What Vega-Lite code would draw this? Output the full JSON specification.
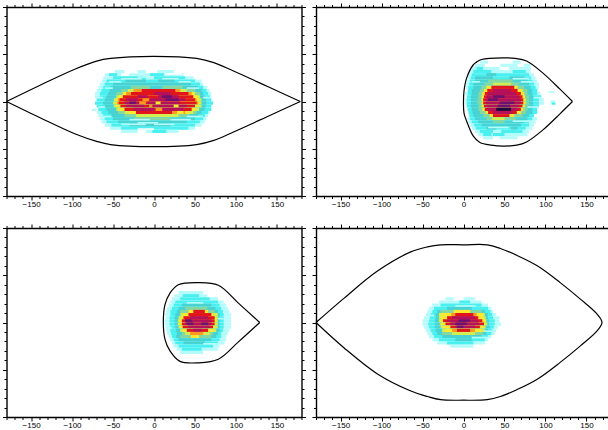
{"$schema":"https://vega.github.io/schema/vega-lite/v6.json","background":"white","padding":{"left":1.5,"top":2,"right":0,"bottom":0},"bounds":"flush","columns":2,"spacing":{"row":32,"column":14.5},
"config":{"view":{"stroke":null},"axis":{"title":null,"grid":false,"domainColor":"#000","domainWidth":1.4,"tickColor":"#000","tickWidth":1,"labelFont":"Liberation Sans","labelFontSize":8,"labelColor":"#000","labelPadding":0,"labelOverlap":false,"labelBound":false,"labelFlush":false,"zindex":1}},
"datasets":{
"h1":[
{"a":-48,"b":-36,"t":30,"d":27,"v":1},{"a":-20,"b":-10,"t":30,"d":27,"v":1},{"a":4,"b":24,"t":30,"d":27,"v":1},
{"a":-60,"b":-40,"t":27,"d":24,"v":1},{"a":-55,"b":-45,"t":27,"d":24,"v":2},{"a":-30,"b":36,"t":27,"d":24,"v":1},{"a":-5,"b":12,"t":27,"d":24,"v":2},
{"a":-62,"b":48,"t":24,"d":21,"v":1},{"a":-50,"b":-10,"t":24,"d":21,"v":2},{"a":0,"b":38,"t":24,"d":21,"v":2},
{"a":-64,"b":58,"t":21,"d":18,"v":1},{"a":-58,"b":50,"t":21,"d":18,"v":2},{"a":-35,"b":-10,"t":21,"d":18,"v":3},{"a":5,"b":25,"t":21,"d":18,"v":3},
{"a":-66,"b":60,"t":18,"d":15,"v":1},{"a":-60,"b":56,"t":18,"d":15,"v":2},{"a":-50,"b":45,"t":18,"d":15,"v":3},
{"a":-68,"b":65,"t":15,"d":12,"v":1},{"a":-62,"b":60,"t":15,"d":12,"v":2},{"a":-52,"b":54,"t":15,"d":12,"v":3},{"a":-28,"b":-5,"t":15,"d":12,"v":4},{"a":10,"b":35,"t":15,"d":12,"v":4},
{"a":-70,"b":68,"t":12,"d":9,"v":1},{"a":-64,"b":64,"t":12,"d":9,"v":2},{"a":-54,"b":58,"t":12,"d":9,"v":3},{"a":-40,"b":50,"t":12,"d":9,"v":4},{"a":-32,"b":40,"t":12,"d":9,"v":5},{"a":-25,"b":32,"t":12,"d":9,"v":7},{"a":-15,"b":26,"t":12,"d":9,"v":8},
{"a":-72,"b":70,"t":9,"d":6,"v":1},{"a":-66,"b":66,"t":9,"d":6,"v":2},{"a":-56,"b":60,"t":9,"d":6,"v":3},{"a":-46,"b":56,"t":9,"d":6,"v":4},{"a":-38,"b":50,"t":9,"d":6,"v":6},{"a":-34,"b":46,"t":9,"d":6,"v":7},{"a":-28,"b":42,"t":9,"d":6,"v":8},{"a":0,"b":20,"t":9,"d":6,"v":9},
{"a":-72,"b":70,"t":6,"d":3,"v":1},{"a":-66,"b":68,"t":6,"d":3,"v":2},{"a":-58,"b":62,"t":6,"d":3,"v":3},{"a":-46,"b":56,"t":6,"d":3,"v":5},{"a":-43,"b":53,"t":6,"d":3,"v":6},{"a":-38,"b":48,"t":6,"d":3,"v":8},{"a":-20,"b":-8,"t":6,"d":3,"v":9},{"a":5,"b":30,"t":6,"d":3,"v":9},{"a":10,"b":22,"t":6,"d":3,"v":10},
{"a":-70,"b":70,"t":3,"d":0,"v":2},{"a":-60,"b":63,"t":3,"d":0,"v":3},{"a":-49,"b":58,"t":3,"d":0,"v":5},{"a":-46,"b":55,"t":3,"d":0,"v":6},{"a":-44,"b":52,"t":3,"d":0,"v":7},{"a":-42,"b":50,"t":3,"d":0,"v":8},{"a":-34,"b":-20,"t":3,"d":0,"v":9},{"a":-5,"b":38,"t":3,"d":0,"v":9},{"a":-14,"b":-6,"t":3,"d":0,"v":7},{"a":14,"b":30,"t":3,"d":0,"v":10},
{"a":-72,"b":72,"t":0,"d":-3,"v":2},{"a":-62,"b":64,"t":0,"d":-3,"v":3},{"a":-50,"b":58,"t":0,"d":-3,"v":5},{"a":-47,"b":56,"t":0,"d":-3,"v":6},{"a":-45,"b":54,"t":0,"d":-3,"v":7},{"a":-43,"b":52,"t":0,"d":-3,"v":8},{"a":-36,"b":-18,"t":0,"d":-3,"v":9},{"a":-18,"b":-10,"t":0,"d":-3,"v":7},{"a":-8,"b":32,"t":0,"d":-3,"v":9},{"a":2,"b":8,"t":0,"d":-3,"v":6},{"a":-30,"b":-22,"t":0,"d":-3,"v":10},
{"a":-70,"b":70,"t":-3,"d":-6,"v":2},{"a":-60,"b":63,"t":-3,"d":-6,"v":3},{"a":-49,"b":58,"t":-3,"d":-6,"v":5},{"a":-46,"b":54,"t":-3,"d":-6,"v":6},{"a":-41,"b":50,"t":-3,"d":-6,"v":8},{"a":-34,"b":-12,"t":-3,"d":-6,"v":9},{"a":-2,"b":40,"t":-3,"d":-6,"v":9},{"a":-6,"b":-2,"t":-3,"d":-6,"v":7},{"a":24,"b":30,"t":-3,"d":-6,"v":6},
{"a":-68,"b":70,"t":-6,"d":-9,"v":2},{"a":-58,"b":62,"t":-6,"d":-9,"v":3},{"a":-46,"b":55,"t":-6,"d":-9,"v":5},{"a":-42,"b":50,"t":-6,"d":-9,"v":6},{"a":-36,"b":46,"t":-6,"d":-9,"v":8},{"a":-25,"b":0,"t":-6,"d":-9,"v":9},{"a":10,"b":36,"t":-6,"d":-9,"v":9},{"a":2,"b":10,"t":-6,"d":-9,"v":7},
{"a":-70,"b":68,"t":-9,"d":-12,"v":1},{"a":-64,"b":66,"t":-9,"d":-12,"v":2},{"a":-56,"b":58,"t":-9,"d":-12,"v":3},{"a":-44,"b":52,"t":-9,"d":-12,"v":4},{"a":-36,"b":48,"t":-9,"d":-12,"v":5},{"a":-30,"b":42,"t":-9,"d":-12,"v":6},{"a":-22,"b":22,"t":-9,"d":-12,"v":8},{"a":22,"b":38,"t":-9,"d":-12,"v":7},{"a":28,"b":36,"t":-9,"d":-12,"v":6},
{"a":-68,"b":66,"t":-12,"d":-15,"v":1},{"a":-62,"b":62,"t":-12,"d":-15,"v":2},{"a":-52,"b":54,"t":-12,"d":-15,"v":3},{"a":-36,"b":44,"t":-12,"d":-15,"v":4},{"a":-22,"b":30,"t":-12,"d":-15,"v":5},
{"a":-66,"b":64,"t":-15,"d":-18,"v":1},{"a":-60,"b":60,"t":-15,"d":-18,"v":2},{"a":-50,"b":50,"t":-15,"d":-18,"v":3},{"a":-24,"b":20,"t":-15,"d":-18,"v":4},
{"a":-64,"b":62,"t":-18,"d":-21,"v":1},{"a":-58,"b":56,"t":-18,"d":-21,"v":2},{"a":-44,"b":40,"t":-18,"d":-21,"v":3},
{"a":-60,"b":58,"t":-21,"d":-24,"v":1},{"a":-52,"b":50,"t":-21,"d":-24,"v":2},{"a":-30,"b":20,"t":-21,"d":-24,"v":3},
{"a":-54,"b":50,"t":-24,"d":-27,"v":1},{"a":-40,"b":42,"t":-24,"d":-27,"v":2},
{"a":-40,"b":-20,"t":-27,"d":-30,"v":1},{"a":-10,"b":30,"t":-27,"d":-30,"v":1},{"a":-2,"b":15,"t":-27,"d":-30,"v":2},
{"a":-40,"b":-15,"t":22.5,"d":21,"v":1},{"a":10,"b":30,"t":22.5,"d":21,"v":1},{"a":-55,"b":-40,"t":19.5,"d":18,"v":1},{"a":30,"b":45,"t":19.5,"d":18,"v":1},{"a":-30,"b":-5,"t":-16.5,"d":-18,"v":1},{"a":20,"b":45,"t":-16.5,"d":-18,"v":1},{"a":-40,"b":-10,"t":-21,"d":-22.5,"v":1},{"a":0,"b":25,"t":-21,"d":-22.5,"v":1},{"a":14,"b":34,"t":27,"d":25.5,"v":0},{"a":-20,"b":0,"t":-25.5,"d":-27,"v":0},{"a":-76,"b":-70,"t":-7,"d":-9,"v":1},
{"a":-20,"b":-6,"t":24,"d":22.5,"v":1},{"a":-66,"b":-52,"t":-13.5,"d":-15,"v":1},{"a":40,"b":60,"t":-13.5,"d":-15,"v":1},{"a":-60,"b":-50,"t":13.5,"d":12,"v":1},{"a":40,"b":55,"t":13.5,"d":12,"v":1},{"a":-72,"b":-62,"t":4.5,"d":3,"v":1},{"a":60,"b":70,"t":4.5,"d":3,"v":1},{"a":-68,"b":-60,"t":-4.5,"d":-6,"v":1},{"a":-20,"b":5,"t":-19.5,"d":-21,"v":1}],
"h2":[
{"a":20,"b":30,"t":39,"d":36,"v":1},{"a":60,"b":70,"t":39,"d":36,"v":1},
{"a":14,"b":26,"t":36,"d":33,"v":1},{"a":45,"b":66,"t":36,"d":33,"v":1},{"a":74,"b":82,"t":36,"d":33,"v":1},
{"a":10,"b":44,"t":33,"d":30,"v":1},{"a":16,"b":24,"t":33,"d":30,"v":2},{"a":56,"b":82,"t":33,"d":30,"v":1},
{"a":8,"b":82,"t":30,"d":27,"v":1},{"a":12,"b":34,"t":30,"d":27,"v":2},{"a":60,"b":76,"t":30,"d":27,"v":2},
{"a":6,"b":86,"t":27,"d":24,"v":1},{"a":10,"b":80,"t":27,"d":24,"v":2},{"a":28,"b":40,"t":27,"d":24,"v":3},
{"a":5,"b":88,"t":24,"d":21,"v":1},{"a":9,"b":82,"t":24,"d":21,"v":2},{"a":14,"b":36,"t":24,"d":21,"v":3},{"a":56,"b":74,"t":24,"d":21,"v":3},
{"a":4,"b":90,"t":21,"d":18,"v":1},{"a":8,"b":84,"t":21,"d":18,"v":2},{"a":14,"b":78,"t":21,"d":18,"v":3},{"a":30,"b":60,"t":21,"d":18,"v":4},
{"a":3,"b":92,"t":18,"d":15,"v":1},{"a":7,"b":86,"t":18,"d":15,"v":2},{"a":12,"b":80,"t":18,"d":15,"v":3},{"a":26,"b":68,"t":18,"d":15,"v":4},{"a":36,"b":58,"t":18,"d":15,"v":5},
{"a":3,"b":92,"t":15,"d":12,"v":1},{"a":6,"b":88,"t":15,"d":12,"v":2},{"a":12,"b":82,"t":15,"d":12,"v":3},{"a":22,"b":74,"t":15,"d":12,"v":4},{"a":28,"b":66,"t":15,"d":12,"v":6},{"a":34,"b":62,"t":15,"d":12,"v":8},
{"a":5,"b":90,"t":12,"d":9,"v":2},{"a":10,"b":84,"t":12,"d":9,"v":3},{"a":20,"b":78,"t":12,"d":9,"v":4},{"a":25,"b":72,"t":12,"d":9,"v":6},{"a":29,"b":66,"t":12,"d":9,"v":8},{"a":36,"b":58,"t":12,"d":9,"v":9},
{"a":2,"b":94,"t":9,"d":6,"v":1},{"a":5,"b":90,"t":9,"d":6,"v":2},{"a":10,"b":84,"t":9,"d":6,"v":3},{"a":18,"b":78,"t":9,"d":6,"v":4},{"a":23,"b":74,"t":9,"d":6,"v":6},{"a":26,"b":70,"t":9,"d":6,"v":8},{"a":30,"b":64,"t":9,"d":6,"v":9},
{"a":4,"b":95,"t":6,"d":3,"v":2},{"a":9,"b":85,"t":6,"d":3,"v":3},{"a":18,"b":80,"t":6,"d":3,"v":4},{"a":22,"b":75,"t":6,"d":3,"v":6},{"a":25,"b":72,"t":6,"d":3,"v":8},{"a":28,"b":68,"t":6,"d":3,"v":9},{"a":36,"b":50,"t":6,"d":3,"v":10},
{"a":2,"b":98,"t":3,"d":0,"v":1},{"a":4,"b":92,"t":3,"d":0,"v":2},{"a":9,"b":85,"t":3,"d":0,"v":3},{"a":17,"b":80,"t":3,"d":0,"v":4},{"a":22,"b":76,"t":3,"d":0,"v":6},{"a":24,"b":73,"t":3,"d":0,"v":8},{"a":27,"b":70,"t":3,"d":0,"v":9},{"a":30,"b":42,"t":3,"d":0,"v":10},
{"a":2,"b":98,"t":0,"d":-3,"v":1},{"a":4,"b":92,"t":0,"d":-3,"v":2},{"a":9,"b":85,"t":0,"d":-3,"v":3},{"a":17,"b":80,"t":0,"d":-3,"v":4},{"a":22,"b":76,"t":0,"d":-3,"v":6},{"a":24,"b":73,"t":0,"d":-3,"v":8},{"a":27,"b":70,"t":0,"d":-3,"v":9},{"a":44,"b":62,"t":0,"d":-3,"v":10},
{"a":4,"b":92,"t":-3,"d":-6,"v":2},{"a":9,"b":85,"t":-3,"d":-6,"v":3},{"a":18,"b":80,"t":-3,"d":-6,"v":4},{"a":22,"b":75,"t":-3,"d":-6,"v":6},{"a":25,"b":72,"t":-3,"d":-6,"v":8},{"a":28,"b":68,"t":-3,"d":-6,"v":9},{"a":42,"b":57,"t":-3,"d":-6,"v":10},
{"a":5,"b":90,"t":-6,"d":-9,"v":2},{"a":10,"b":84,"t":-6,"d":-9,"v":3},{"a":18,"b":78,"t":-6,"d":-9,"v":4},{"a":23,"b":73,"t":-6,"d":-9,"v":6},{"a":26,"b":70,"t":-6,"d":-9,"v":8},{"a":29,"b":66,"t":-6,"d":-9,"v":9},{"a":40,"b":58,"t":-6,"d":-9,"v":11},
{"a":6,"b":90,"t":-9,"d":-12,"v":2},{"a":11,"b":84,"t":-9,"d":-12,"v":3},{"a":20,"b":76,"t":-9,"d":-12,"v":4},{"a":27,"b":70,"t":-9,"d":-12,"v":6},{"a":30,"b":65,"t":-9,"d":-12,"v":8},{"a":36,"b":60,"t":-9,"d":-12,"v":9},
{"a":7,"b":86,"t":-12,"d":-15,"v":2},{"a":12,"b":80,"t":-12,"d":-15,"v":3},{"a":24,"b":72,"t":-12,"d":-15,"v":4},{"a":32,"b":62,"t":-12,"d":-15,"v":6},{"a":36,"b":56,"t":-12,"d":-15,"v":8},
{"a":5,"b":90,"t":-15,"d":-18,"v":1},{"a":8,"b":84,"t":-15,"d":-18,"v":2},{"a":14,"b":78,"t":-15,"d":-18,"v":3},{"a":28,"b":64,"t":-15,"d":-18,"v":4},{"a":35,"b":50,"t":-15,"d":-18,"v":5},
{"a":6,"b":88,"t":-18,"d":-21,"v":1},{"a":10,"b":80,"t":-18,"d":-21,"v":2},{"a":18,"b":74,"t":-18,"d":-21,"v":3},{"a":36,"b":50,"t":-18,"d":-21,"v":4},
{"a":8,"b":86,"t":-21,"d":-24,"v":1},{"a":13,"b":80,"t":-21,"d":-24,"v":2},{"a":22,"b":70,"t":-21,"d":-24,"v":3},
{"a":10,"b":84,"t":-24,"d":-27,"v":1},{"a":15,"b":76,"t":-24,"d":-27,"v":2},{"a":28,"b":40,"t":-24,"d":-27,"v":3},{"a":58,"b":66,"t":-24,"d":-27,"v":3},
{"a":14,"b":80,"t":-27,"d":-30,"v":1},{"a":20,"b":36,"t":-27,"d":-30,"v":2},{"a":46,"b":72,"t":-27,"d":-30,"v":2},
{"a":18,"b":78,"t":-30,"d":-33,"v":1},{"a":24,"b":34,"t":-30,"d":-33,"v":2},{"a":36,"b":50,"t":-30,"d":-33,"v":2},
{"a":24,"b":36,"t":-33,"d":-36,"v":1},{"a":44,"b":66,"t":-33,"d":-36,"v":1},
{"a":104,"b":110,"t":10,"d":8,"v":1},{"a":106,"b":112,"t":1,"d":-3,"v":1},{"a":108,"b":112,"t":-1,"d":-3,"v":2},
{"a":60,"b":80,"t":22.5,"d":21,"v":1},{"a":10,"b":20,"t":19.5,"d":18,"v":1},{"a":70,"b":84,"t":19.5,"d":18,"v":1},{"a":60,"b":80,"t":-18,"d":-19.5,"v":1},{"a":30,"b":55,"t":-24,"d":-25.5,"v":1},{"a":86,"b":95,"t":4.5,"d":3,"v":1},{"a":78,"b":92,"t":-4.5,"d":-6,"v":1}],
"h3":[
{"a":30,"b":60,"t":30,"d":27,"v":1},
{"a":25,"b":65,"t":27,"d":24,"v":1},{"a":35,"b":55,"t":27,"d":24,"v":2},
{"a":22,"b":78,"t":24,"d":21,"v":1},{"a":32,"b":68,"t":24,"d":21,"v":2},
{"a":20,"b":85,"t":21,"d":18,"v":1},{"a":26,"b":78,"t":21,"d":18,"v":2},
{"a":18,"b":88,"t":18,"d":15,"v":1},{"a":24,"b":80,"t":18,"d":15,"v":2},{"a":34,"b":70,"t":18,"d":15,"v":3},
{"a":16,"b":90,"t":15,"d":12,"v":1},{"a":22,"b":82,"t":15,"d":12,"v":2},{"a":30,"b":75,"t":15,"d":12,"v":3},{"a":38,"b":65,"t":15,"d":12,"v":4},
{"a":15,"b":92,"t":12,"d":9,"v":1},{"a":20,"b":84,"t":12,"d":9,"v":2},{"a":28,"b":78,"t":12,"d":9,"v":3},{"a":32,"b":74,"t":12,"d":9,"v":4},{"a":42,"b":66,"t":12,"d":9,"v":6},{"a":48,"b":62,"t":12,"d":9,"v":8},
{"a":14,"b":94,"t":9,"d":6,"v":1},{"a":20,"b":85,"t":9,"d":6,"v":2},{"a":26,"b":80,"t":9,"d":6,"v":3},{"a":32,"b":78,"t":9,"d":6,"v":5},{"a":36,"b":72,"t":9,"d":6,"v":6},{"a":42,"b":70,"t":9,"d":6,"v":8},
{"a":14,"b":94,"t":6,"d":3,"v":1},{"a":19,"b":85,"t":6,"d":3,"v":2},{"a":25,"b":80,"t":6,"d":3,"v":3},{"a":30,"b":78,"t":6,"d":3,"v":5},{"a":33,"b":75,"t":6,"d":3,"v":6},{"a":36,"b":74,"t":6,"d":3,"v":8},{"a":44,"b":66,"t":6,"d":3,"v":9},
{"a":13,"b":94,"t":3,"d":0,"v":1},{"a":19,"b":85,"t":3,"d":0,"v":2},{"a":25,"b":80,"t":3,"d":0,"v":3},{"a":29,"b":78,"t":3,"d":0,"v":5},{"a":31,"b":76,"t":3,"d":0,"v":6},{"a":34,"b":74,"t":3,"d":0,"v":8},{"a":38,"b":70,"t":3,"d":0,"v":9},{"a":38,"b":46,"t":3,"d":0,"v":10},
{"a":13,"b":94,"t":0,"d":-3,"v":1},{"a":19,"b":85,"t":0,"d":-3,"v":2},{"a":25,"b":80,"t":0,"d":-3,"v":3},{"a":29,"b":78,"t":0,"d":-3,"v":5},{"a":31,"b":76,"t":0,"d":-3,"v":6},{"a":34,"b":74,"t":0,"d":-3,"v":8},{"a":38,"b":70,"t":0,"d":-3,"v":9},{"a":40,"b":48,"t":0,"d":-3,"v":10},{"a":58,"b":66,"t":0,"d":-3,"v":10},
{"a":14,"b":94,"t":-3,"d":-6,"v":1},{"a":20,"b":85,"t":-3,"d":-6,"v":2},{"a":26,"b":80,"t":-3,"d":-6,"v":3},{"a":30,"b":78,"t":-3,"d":-6,"v":5},{"a":32,"b":74,"t":-3,"d":-6,"v":6},{"a":35,"b":72,"t":-3,"d":-6,"v":8},{"a":42,"b":68,"t":-3,"d":-6,"v":9},
{"a":15,"b":92,"t":-6,"d":-9,"v":1},{"a":20,"b":84,"t":-6,"d":-9,"v":2},{"a":27,"b":80,"t":-6,"d":-9,"v":3},{"a":32,"b":76,"t":-6,"d":-9,"v":5},{"a":35,"b":72,"t":-6,"d":-9,"v":6},{"a":40,"b":66,"t":-6,"d":-9,"v":8},{"a":48,"b":58,"t":-6,"d":-9,"v":9},
{"a":16,"b":90,"t":-9,"d":-12,"v":1},{"a":21,"b":82,"t":-9,"d":-12,"v":2},{"a":28,"b":78,"t":-9,"d":-12,"v":3},{"a":34,"b":72,"t":-9,"d":-12,"v":4},{"a":38,"b":68,"t":-9,"d":-12,"v":5},{"a":44,"b":60,"t":-9,"d":-12,"v":7},
{"a":18,"b":88,"t":-12,"d":-15,"v":1},{"a":22,"b":82,"t":-12,"d":-15,"v":2},{"a":27,"b":76,"t":-12,"d":-15,"v":3},{"a":32,"b":70,"t":-12,"d":-15,"v":4},{"a":45,"b":55,"t":-12,"d":-15,"v":6},
{"a":20,"b":88,"t":-15,"d":-18,"v":1},{"a":24,"b":80,"t":-15,"d":-18,"v":2},{"a":30,"b":70,"t":-15,"d":-18,"v":3},
{"a":22,"b":86,"t":-18,"d":-21,"v":1},{"a":26,"b":78,"t":-18,"d":-21,"v":2},{"a":36,"b":62,"t":-18,"d":-21,"v":3},
{"a":24,"b":80,"t":-21,"d":-24,"v":1},{"a":30,"b":72,"t":-21,"d":-24,"v":2},
{"a":28,"b":78,"t":-24,"d":-27,"v":1},{"a":34,"b":58,"t":-24,"d":-27,"v":2},
{"a":32,"b":60,"t":-27,"d":-30,"v":1},
{"a":40,"b":60,"t":19.5,"d":18,"v":1},{"a":60,"b":78,"t":-19.5,"d":-21,"v":1},{"a":78,"b":85,"t":4.5,"d":3,"v":1},{"a":15,"b":22,"t":-4.5,"d":-6,"v":1}],
"h4":[
{"a":-22,"b":-12,"t":24,"d":21,"v":1},{"a":0,"b":14,"t":24,"d":21,"v":1},
{"a":-30,"b":22,"t":21,"d":18,"v":1},{"a":-5,"b":8,"t":21,"d":18,"v":2},
{"a":-38,"b":30,"t":18,"d":15,"v":1},{"a":-28,"b":22,"t":18,"d":15,"v":2},
{"a":-42,"b":34,"t":15,"d":12,"v":1},{"a":-36,"b":30,"t":15,"d":12,"v":2},{"a":-20,"b":10,"t":15,"d":12,"v":3},
{"a":-44,"b":36,"t":12,"d":9,"v":1},{"a":-38,"b":33,"t":12,"d":9,"v":2},{"a":-32,"b":26,"t":12,"d":9,"v":3},{"a":-28,"b":22,"t":12,"d":9,"v":4},{"a":-12,"b":8,"t":12,"d":9,"v":6},
{"a":-46,"b":40,"t":9,"d":6,"v":1},{"a":-40,"b":35,"t":9,"d":6,"v":2},{"a":-34,"b":30,"t":9,"d":6,"v":3},{"a":-30,"b":26,"t":9,"d":6,"v":5},{"a":-28,"b":24,"t":9,"d":6,"v":6},{"a":-15,"b":16,"t":9,"d":6,"v":7},{"a":-10,"b":12,"t":9,"d":6,"v":8},
{"a":-48,"b":44,"t":6,"d":3,"v":1},{"a":-41,"b":36,"t":6,"d":3,"v":2},{"a":-34,"b":30,"t":6,"d":3,"v":3},{"a":-30,"b":27,"t":6,"d":3,"v":5},{"a":-28,"b":25,"t":6,"d":3,"v":6},{"a":-20,"b":18,"t":6,"d":3,"v":8},{"a":-14,"b":14,"t":6,"d":3,"v":9},
{"a":-50,"b":44,"t":3,"d":0,"v":1},{"a":-42,"b":38,"t":3,"d":0,"v":2},{"a":-35,"b":31,"t":3,"d":0,"v":3},{"a":-30,"b":28,"t":3,"d":0,"v":5},{"a":-28,"b":27,"t":3,"d":0,"v":6},{"a":-25,"b":23,"t":3,"d":0,"v":8},{"a":-20,"b":18,"t":3,"d":0,"v":9},{"a":-6,"b":8,"t":3,"d":0,"v":10},
{"a":-50,"b":46,"t":0,"d":-3,"v":1},{"a":-43,"b":38,"t":0,"d":-3,"v":2},{"a":-35,"b":31,"t":0,"d":-3,"v":3},{"a":-29,"b":29,"t":0,"d":-3,"v":5},{"a":-27,"b":27,"t":0,"d":-3,"v":6},{"a":-22,"b":25,"t":0,"d":-3,"v":8},{"a":-16,"b":19,"t":0,"d":-3,"v":9},{"a":-10,"b":4,"t":0,"d":-3,"v":10},
{"a":-48,"b":42,"t":-3,"d":-6,"v":1},{"a":-42,"b":37,"t":-3,"d":-6,"v":2},{"a":-35,"b":32,"t":-3,"d":-6,"v":3},{"a":-28,"b":27,"t":-3,"d":-6,"v":5},{"a":-25,"b":24,"t":-3,"d":-6,"v":6},{"a":-16,"b":20,"t":-3,"d":-6,"v":8},{"a":-10,"b":14,"t":-3,"d":-6,"v":9},{"a":-8,"b":0,"t":-3,"d":-6,"v":10},
{"a":-46,"b":40,"t":-6,"d":-9,"v":1},{"a":-40,"b":35,"t":-6,"d":-9,"v":2},{"a":-34,"b":30,"t":-6,"d":-9,"v":3},{"a":-26,"b":26,"t":-6,"d":-9,"v":5},{"a":-22,"b":22,"t":-6,"d":-9,"v":6},{"a":-14,"b":14,"t":-6,"d":-9,"v":7},{"a":-8,"b":8,"t":-6,"d":-9,"v":8},
{"a":-44,"b":38,"t":-9,"d":-12,"v":1},{"a":-38,"b":34,"t":-9,"d":-12,"v":2},{"a":-32,"b":28,"t":-9,"d":-12,"v":3},{"a":-26,"b":24,"t":-9,"d":-12,"v":4},{"a":-14,"b":14,"t":-9,"d":-12,"v":5},
{"a":-42,"b":34,"t":-12,"d":-15,"v":1},{"a":-36,"b":30,"t":-12,"d":-15,"v":2},{"a":-26,"b":22,"t":-12,"d":-15,"v":3},
{"a":-38,"b":30,"t":-15,"d":-18,"v":1},{"a":-30,"b":26,"t":-15,"d":-18,"v":2},{"a":-10,"b":10,"t":-15,"d":-18,"v":3},
{"a":-32,"b":26,"t":-18,"d":-21,"v":1},{"a":-20,"b":12,"t":-18,"d":-21,"v":2},
{"a":-16,"b":12,"t":-21,"d":-24,"v":1},
{"a":-10,"b":15,"t":16.5,"d":15,"v":1},{"a":10,"b":30,"t":-13.5,"d":-15,"v":1},{"a":-44,"b":-36,"t":7.5,"d":6,"v":1},{"a":25,"b":35,"t":-7.5,"d":-9,"v":1}],
"l1":[{"s":0,"i":0,"x":-180,"y":0},{"s":0,"i":1,"x":-139,"y":15.5},{"s":0,"i":2,"x":-96,"y":31},{"s":0,"i":3,"x":-70,"y":38.5},{"s":0,"i":4,"x":-53,"y":41},{"s":0,"i":5,"x":0,"y":43},{"s":0,"i":6,"x":52,"y":41},{"s":0,"i":7,"x":73,"y":37},{"s":0,"i":8,"x":97,"y":29},{"s":0,"i":9,"x":138,"y":14.5},{"s":0,"i":10,"x":178.5,"y":0},{"s":1,"i":10,"x":178.5,"y":0},{"s":1,"i":11,"x":138,"y":-14.5},{"s":1,"i":12,"x":97,"y":-29},{"s":1,"i":13,"x":73,"y":-37},{"s":1,"i":14,"x":52,"y":-41},{"s":1,"i":15,"x":0,"y":-43},{"s":1,"i":16,"x":-53,"y":-41},{"s":1,"i":17,"x":-70,"y":-38},{"s":1,"i":18,"x":-96,"y":-31},{"s":1,"i":19,"x":-139,"y":-15.5},{"s":1,"i":20,"x":-180,"y":0}],
"l2":[{"i":0,"x":133,"y":0},{"i":1,"x":118,"y":11.5},{"i":2,"x":97,"y":27},{"i":3,"x":77,"y":38.5},{"i":4,"x":63,"y":41},{"i":5,"x":48.6,"y":41.6},{"i":6,"x":22,"y":40},{"i":7,"x":16,"y":37.5},{"i":8,"x":12,"y":35},{"i":9,"x":3.9,"y":22.5},{"i":10,"x":0.6,"y":10},{"i":11,"x":0,"y":0},{"i":12,"x":0.6,"y":-11},{"i":13,"x":4,"y":-19},{"i":14,"x":12,"y":-33},{"i":15,"x":20,"y":-39},{"i":16,"x":34,"y":-41.6},{"i":17,"x":48.6,"y":-42.5},{"i":18,"x":65,"y":-41.6},{"i":19,"x":77,"y":-38.5},{"i":20,"x":97,"y":-27},{"i":21,"x":118,"y":-11.5},{"i":22,"x":133,"y":0}],
"l3":[{"i":0,"x":129,"y":0},{"i":1,"x":103,"y":18.5},{"i":2,"x":78.5,"y":35.5},{"i":3,"x":54,"y":38},{"i":4,"x":29.7,"y":36},{"i":5,"x":19.5,"y":28},{"i":6,"x":13.4,"y":17},{"i":7,"x":11.4,"y":0},{"i":8,"x":13.4,"y":-16},{"i":9,"x":19.5,"y":-27},{"i":10,"x":31.7,"y":-37},{"i":11,"x":54,"y":-38.4},{"i":12,"x":78.5,"y":-35},{"i":13,"x":103,"y":-18.5},{"i":14,"x":129,"y":0}],
"l4":[{"i":0,"x":-180,"y":0},{"i":1,"x":-146,"y":23},{"i":2,"x":-105,"y":49},{"i":3,"x":-65,"y":67},{"i":4,"x":-44,"y":72},{"i":5,"x":-28,"y":74},{"i":6,"x":0,"y":74},{"i":7,"x":29,"y":74},{"i":8,"x":45,"y":70.5},{"i":9,"x":65,"y":64},{"i":10,"x":90,"y":54},{"i":11,"x":118,"y":38},{"i":12,"x":143,"y":22},{"i":13,"x":163,"y":8},{"i":14,"x":169,"y":0},{"i":15,"x":163,"y":-8},{"i":16,"x":143,"y":-22},{"i":17,"x":118,"y":-38},{"i":18,"x":90,"y":-54},{"i":19,"x":65,"y":-64},{"i":20,"x":45,"y":-70.5},{"i":21,"x":29,"y":-73.5},{"i":22,"x":0,"y":-74},{"i":23,"x":-28,"y":-73.5},{"i":24,"x":-44,"y":-70.5},{"i":25,"x":-65,"y":-65},{"i":26,"x":-105,"y":-49},{"i":27,"x":-146,"y":-24},{"i":28,"x":-180,"y":0}]
},
"concat":[
{"width":295,"height":189,"resolve":{"axis":{"x":"independent","y":"independent"}},"layer":[
{"data":{"name":"h1"},"mark":{"type":"rect","strokeWidth":0},"encoding":{"x":{"field":"a","type":"quantitative","scale":{"domain":[-180,180],"nice":false,"zero":false},"axis":{"orient":"bottom","values":[-180,-170,-160,-150,-140,-130,-120,-110,-100,-90,-80,-70,-60,-50,-40,-30,-20,-10,0,10,20,30,40,50,60,70,80,90,100,110,120,130,140,150,160,170,180],"tickSize":{"condition":{"test":"datum.value%50===0","value":4},"value":2.5},"labelExpr":"datum.value%50===0?datum.label:''"}},"x2":{"field":"b"},"y":{"field":"t","type":"quantitative","scale":{"domain":[-90,90],"nice":false,"zero":false},"axis":{"orient":"left","labels":false,"values":[-90,-81,-72,-63,-54,-45,-36,-27,-18,-9,0,9,18,27,36,45,54,63,72,81,90],"tickSize":{"condition":{"test":"datum.value%45===0","value":4},"value":2.5}}},"y2":{"field":"d"},"color":{"field":"v","type":"ordinal","legend":null,"scale":{"domain":[0,1,2,3,4,5,6,7,8,9,10,11],"range":["#ffffff","#b5fbfb","#4af0f0","#48d2d2","#86d8a0","#d2ee50","#ffe92e","#ff9a1e","#e2141c","#b5105a","#6f1070","#1c0c3c"]}}}},
{"data":{"name":"l1"},"mark":{"type":"line","color":"#000","strokeWidth":1.2,"interpolate":"catmull-rom"},"encoding":{"detail":{"field":"s"},"x":{"field":"x","type":"quantitative","scale":{"domain":[-180,180],"nice":false,"zero":false},"axis":{"orient":"top","labels":false,"values":[-180,-170,-160,-150,-140,-130,-120,-110,-100,-90,-80,-70,-60,-50,-40,-30,-20,-10,0,10,20,30,40,50,60,70,80,90,100,110,120,130,140,150,160,170,180],"tickSize":{"condition":{"test":"datum.value%50===0","value":4},"value":2.5}}},"y":{"field":"y","type":"quantitative","scale":{"domain":[-90,90],"nice":false,"zero":false},"axis":{"orient":"right","labels":false,"values":[-90,-81,-72,-63,-54,-45,-36,-27,-18,-9,0,9,18,27,36,45,54,63,72,81,90],"tickSize":{"condition":{"test":"datum.value%45===0","value":4},"value":2.5}}},"order":{"field":"i","type":"quantitative"}}}]},
{"width":295,"height":189,"resolve":{"axis":{"x":"independent","y":"independent"}},"layer":[
{"data":{"name":"h2"},"mark":{"type":"rect","strokeWidth":0},"encoding":{"x":{"field":"a","type":"quantitative","scale":{"domain":[-180,180],"nice":false,"zero":false},"axis":{"orient":"bottom","values":[-180,-170,-160,-150,-140,-130,-120,-110,-100,-90,-80,-70,-60,-50,-40,-30,-20,-10,0,10,20,30,40,50,60,70,80,90,100,110,120,130,140,150,160,170,180],"tickSize":{"condition":{"test":"datum.value%50===0","value":4},"value":2.5},"labelExpr":"datum.value%50===0?datum.label:''"}},"x2":{"field":"b"},"y":{"field":"t","type":"quantitative","scale":{"domain":[-90,90],"nice":false,"zero":false},"axis":{"orient":"left","labels":false,"values":[-90,-81,-72,-63,-54,-45,-36,-27,-18,-9,0,9,18,27,36,45,54,63,72,81,90],"tickSize":{"condition":{"test":"datum.value%45===0","value":4},"value":2.5}}},"y2":{"field":"d"},"color":{"field":"v","type":"ordinal","legend":null,"scale":{"domain":[0,1,2,3,4,5,6,7,8,9,10,11],"range":["#ffffff","#b5fbfb","#4af0f0","#48d2d2","#86d8a0","#d2ee50","#ffe92e","#ff9a1e","#e2141c","#b5105a","#6f1070","#1c0c3c"]}}}},
{"data":{"name":"l2"},"mark":{"type":"line","color":"#000","strokeWidth":1.2,"interpolate":"catmull-rom"},"encoding":{"x":{"field":"x","type":"quantitative","scale":{"domain":[-180,180],"nice":false,"zero":false},"axis":{"orient":"top","labels":false,"values":[-180,-170,-160,-150,-140,-130,-120,-110,-100,-90,-80,-70,-60,-50,-40,-30,-20,-10,0,10,20,30,40,50,60,70,80,90,100,110,120,130,140,150,160,170,180],"tickSize":{"condition":{"test":"datum.value%50===0","value":4},"value":2.5}}},"y":{"field":"y","type":"quantitative","scale":{"domain":[-90,90],"nice":false,"zero":false},"axis":{"orient":"right","labels":false,"values":[-90,-81,-72,-63,-54,-45,-36,-27,-18,-9,0,9,18,27,36,45,54,63,72,81,90],"tickSize":{"condition":{"test":"datum.value%45===0","value":4},"value":2.5}}},"order":{"field":"i","type":"quantitative"}}}]},
{"width":295,"height":189,"resolve":{"axis":{"x":"independent","y":"independent"}},"layer":[
{"data":{"name":"h3"},"mark":{"type":"rect","strokeWidth":0},"encoding":{"x":{"field":"a","type":"quantitative","scale":{"domain":[-180,180],"nice":false,"zero":false},"axis":{"orient":"bottom","values":[-180,-170,-160,-150,-140,-130,-120,-110,-100,-90,-80,-70,-60,-50,-40,-30,-20,-10,0,10,20,30,40,50,60,70,80,90,100,110,120,130,140,150,160,170,180],"tickSize":{"condition":{"test":"datum.value%50===0","value":4},"value":2.5},"labelExpr":"datum.value%50===0?datum.label:''"}},"x2":{"field":"b"},"y":{"field":"t","type":"quantitative","scale":{"domain":[-90,90],"nice":false,"zero":false},"axis":{"orient":"left","labels":false,"values":[-90,-81,-72,-63,-54,-45,-36,-27,-18,-9,0,9,18,27,36,45,54,63,72,81,90],"tickSize":{"condition":{"test":"datum.value%45===0","value":4},"value":2.5}}},"y2":{"field":"d"},"color":{"field":"v","type":"ordinal","legend":null,"scale":{"domain":[0,1,2,3,4,5,6,7,8,9,10,11],"range":["#ffffff","#b5fbfb","#4af0f0","#48d2d2","#86d8a0","#d2ee50","#ffe92e","#ff9a1e","#e2141c","#b5105a","#6f1070","#1c0c3c"]}}}},
{"data":{"name":"l3"},"mark":{"type":"line","color":"#000","strokeWidth":1.2,"interpolate":"catmull-rom"},"encoding":{"x":{"field":"x","type":"quantitative","scale":{"domain":[-180,180],"nice":false,"zero":false},"axis":{"orient":"top","labels":false,"values":[-180,-170,-160,-150,-140,-130,-120,-110,-100,-90,-80,-70,-60,-50,-40,-30,-20,-10,0,10,20,30,40,50,60,70,80,90,100,110,120,130,140,150,160,170,180],"tickSize":{"condition":{"test":"datum.value%50===0","value":4},"value":2.5}}},"y":{"field":"y","type":"quantitative","scale":{"domain":[-90,90],"nice":false,"zero":false},"axis":{"orient":"right","labels":false,"values":[-90,-81,-72,-63,-54,-45,-36,-27,-18,-9,0,9,18,27,36,45,54,63,72,81,90],"tickSize":{"condition":{"test":"datum.value%45===0","value":4},"value":2.5}}},"order":{"field":"i","type":"quantitative"}}}]},
{"width":295,"height":189,"resolve":{"axis":{"x":"independent","y":"independent"}},"layer":[
{"data":{"name":"h4"},"mark":{"type":"rect","strokeWidth":0},"encoding":{"x":{"field":"a","type":"quantitative","scale":{"domain":[-180,180],"nice":false,"zero":false},"axis":{"orient":"bottom","values":[-180,-170,-160,-150,-140,-130,-120,-110,-100,-90,-80,-70,-60,-50,-40,-30,-20,-10,0,10,20,30,40,50,60,70,80,90,100,110,120,130,140,150,160,170,180],"tickSize":{"condition":{"test":"datum.value%50===0","value":4},"value":2.5},"labelExpr":"datum.value%50===0?datum.label:''"}},"x2":{"field":"b"},"y":{"field":"t","type":"quantitative","scale":{"domain":[-90,90],"nice":false,"zero":false},"axis":{"orient":"left","labels":false,"values":[-90,-81,-72,-63,-54,-45,-36,-27,-18,-9,0,9,18,27,36,45,54,63,72,81,90],"tickSize":{"condition":{"test":"datum.value%45===0","value":4},"value":2.5}}},"y2":{"field":"d"},"color":{"field":"v","type":"ordinal","legend":null,"scale":{"domain":[0,1,2,3,4,5,6,7,8,9,10,11],"range":["#ffffff","#b5fbfb","#4af0f0","#48d2d2","#86d8a0","#d2ee50","#ffe92e","#ff9a1e","#e2141c","#b5105a","#6f1070","#1c0c3c"]}}}},
{"data":{"name":"l4"},"mark":{"type":"line","color":"#000","strokeWidth":1.2,"interpolate":"catmull-rom"},"encoding":{"x":{"field":"x","type":"quantitative","scale":{"domain":[-180,180],"nice":false,"zero":false},"axis":{"orient":"top","labels":false,"values":[-180,-170,-160,-150,-140,-130,-120,-110,-100,-90,-80,-70,-60,-50,-40,-30,-20,-10,0,10,20,30,40,50,60,70,80,90,100,110,120,130,140,150,160,170,180],"tickSize":{"condition":{"test":"datum.value%50===0","value":4},"value":2.5}}},"y":{"field":"y","type":"quantitative","scale":{"domain":[-90,90],"nice":false,"zero":false},"axis":{"orient":"right","labels":false,"values":[-90,-81,-72,-63,-54,-45,-36,-27,-18,-9,0,9,18,27,36,45,54,63,72,81,90],"tickSize":{"condition":{"test":"datum.value%45===0","value":4},"value":2.5}}},"order":{"field":"i","type":"quantitative"}}}]}
]}
